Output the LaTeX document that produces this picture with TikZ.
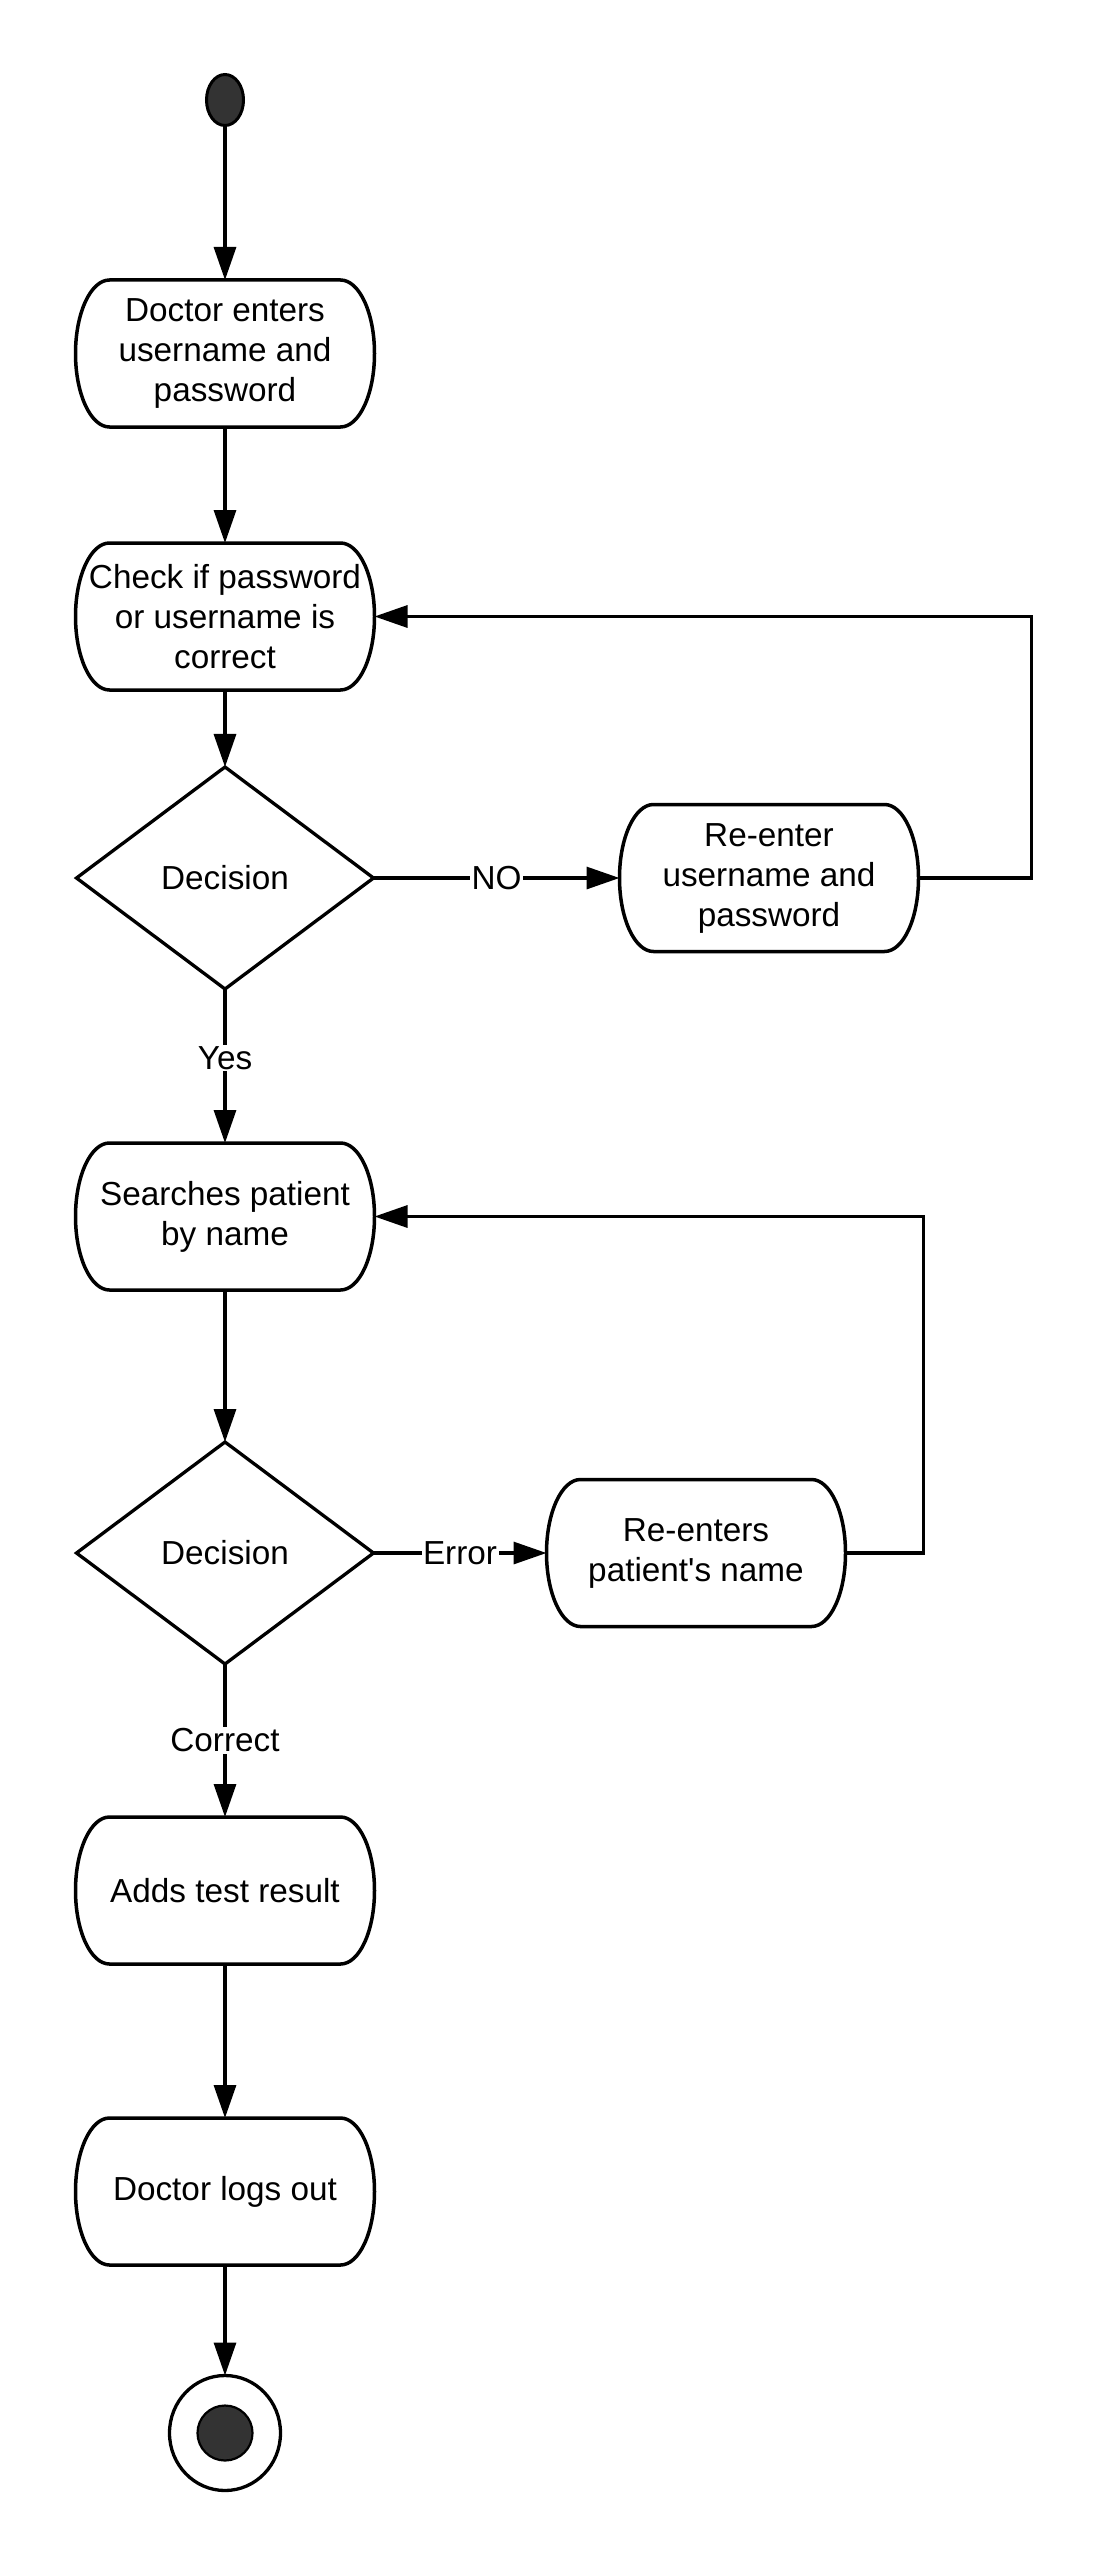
\documentclass[tikz,border=0pt]{standalone}
\usepackage{fontspec}
\setmainfont{Liberation Sans}
\usetikzlibrary{shapes.geometric,arrows.meta,positioning}
\definecolor{dotgray}{HTML}{333333}
\tikzstyle{action} = [rectangle, minimum width=299pt, minimum height=147pt,
    inner sep=0pt, outer sep=0pt, align=center, font=\fontsize{33.3pt}{40pt}\selectfont]
\tikzstyle{decision} = [diamond, draw, line width=3.3pt, minimum width=297pt,
    minimum height=222pt, inner sep=0pt, outer sep=0pt, font=\fontsize{33.3pt}{40pt}\selectfont]
\tikzstyle{startdot} = [ellipse, draw, line width=3pt, fill=dotgray,
    minimum width=37pt, minimum height=51pt, inner sep=0pt, outer sep=0pt]
\tikzstyle{stopring} = [ellipse, draw, line width=3.3pt,
    minimum width=111pt, minimum height=115pt, inner sep=0pt, outer sep=0pt]
\tikzstyle{stopdot} = [circle, draw, line width=2.2pt, fill=dotgray, minimum size=55pt, inner sep=0pt]
\tikzstyle{guard} = [fill=white, inner sep=1.5pt, font=\fontsize{33.3pt}{40pt}\selectfont]
\tikzstyle{outline} = [line width=3.5pt]
\tikzstyle{arrow} = [line width=3.2pt, -{Triangle[length=33pt,width=22pt]}]

\begin{document}
\begin{tikzpicture}
    \useasboundingbox (0,0) rectangle (1108pt,-2563pt);
    % Place nodes
    \node [startdot] (start) at (225pt,-100pt) {};
    \node [action, below of=start, node distance=253.5pt] (enter) {Doctor enters\\username and\\password};
    \node [action, below of=enter, node distance=263pt] (check) {Check if password\\or username is\\correct};
    \node [decision, below of=check, node distance=261.5pt] (dec1) {Decision};
    \node [action, right of=dec1, node distance=544pt] (retry) {Re-enter\\username and\\password};
    \node [action, below of=dec1, node distance=338.5pt] (search) {Searches patient\\by name};
    \node [decision, below of=search, node distance=336.5pt] (dec2) {Decision};
    \node [action, right of=dec2, node distance=471pt] (rename) {Re-enters\\patient\textquotesingle s name};
    \node [action, below of=dec2, node distance=337.5pt] (addres) {Adds test result};
    \node [action, below of=addres, node distance=301pt] (logout) {Doctor logs out};
    \node [stopring, below of=logout, node distance=241.5pt] (stop) {};
    \node [stopdot] (stopin) at (stop) {};
    % Outlines of the action states
    \foreach \n in {enter,check,retry,search,rename,addres,logout}
        \draw [outline] ([xshift=34pt]\n.north west) -- ([xshift=-34pt]\n.north east)
            arc [start angle=90, end angle=-90, x radius=34pt, y radius=73.5pt]
            -- ([xshift=34pt]\n.south west)
            arc [start angle=270, end angle=90, x radius=34pt, y radius=73.5pt] -- cycle;
    % Draw edges
    \draw [arrow] (start) -- (enter);
    \draw [arrow] (enter) -- (check);
    \draw [arrow] (check) -- (dec1);
    \draw [arrow] (dec1.east) -- node [guard] {NO} (retry.west);
    \draw [arrow] (retry.east) -- ++(113pt,0) |- (check.east);
    \draw [arrow] (dec1.south) -- node [guard, pos=0.45] {Yes} (search.north);
    \draw [arrow] (search) -- (dec2);
    \draw [arrow] (dec2.east) -- node [guard] {Error} (rename.west);
    \draw [arrow] (rename.east) -- ++(78pt,0) |- (search.east);
    \draw [arrow] (dec2.south) -- node [guard] {Correct} (addres.north);
    \draw [arrow] (addres) -- (logout);
    \draw [arrow] (logout) -- (stop);
\end{tikzpicture}
\end{document}
